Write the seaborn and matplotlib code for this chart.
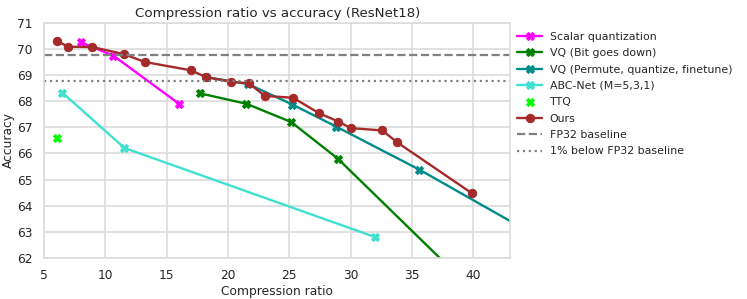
import matplotlib
matplotlib.use("Agg")
import matplotlib.pyplot as plt
import seaborn as sns
import pandas as pd

sns.set_theme(style="whitegrid")
plt.rcParams['font.family'] = ['DejaVu Sans']

scalar_x = [8.0, 10.65, 16.0]
scalar_y = [70.25, 69.74, 67.9]

bgd_x = [17.7, 21.5, 25.15, 28.95, 43.5]
bgd_y = [68.3, 67.9, 67.2, 65.8, 59.15]

pqf_x = [18.2, 21.66, 25.25, 28.8, 35.6, 43.5]
pqf_y = [68.92, 68.65, 67.87, 67.03, 65.38, 63.28]

abc_x = [6.5, 11.55, 32.0]
abc_y = [68.32, 66.21, 62.8]

ttq_x = [6.04]
ttq_y = [66.6]

ours_x = [6.04, 6.98, 8.94, 11.5, 13.2, 16.97, 18.2, 20.2, 21.7, 23.0, 25.3,
          27.45, 29.0, 30.0, 32.57, 33.8, 39.9]
ours_y = [70.3, 70.08, 70.07, 69.8, 69.5, 69.18, 68.92, 68.75, 68.68, 68.2, 68.13,
          67.53, 67.22, 66.97, 66.88, 66.42, 64.47]

fp32 = 69.76
fp32_1 = 68.76

fig = plt.figure(figsize=(7.47, 2.99), dpi=100)
ax = fig.add_axes([0.059, 0.137, 0.624, 0.787])

series = [
    ("Scalar quantization", scalar_x, scalar_y, "magenta", "X"),
    ("VQ (Bit goes down)", bgd_x, bgd_y, "green", "X"),
    ("VQ (Permute, quantize, finetune)", pqf_x, pqf_y, "darkcyan", "X"),
    ("ABC-Net (M=5,3,1)", abc_x, abc_y, "turquoise", "X"),
]
for name, xs, ys, c, m in series:
    sns.lineplot(x=xs, y=ys, ax=ax, color=c, marker=m, markersize=6,
                 markeredgecolor=c, linewidth=1.7, label=name, sort=False)

sns.scatterplot(x=ttq_x, y=ttq_y, ax=ax, color="lime", marker="X", s=36,
                edgecolor="lime", label="TTQ", zorder=3)

sns.lineplot(x=ours_x, y=ours_y, ax=ax, color="brown", marker="o", markersize=6,
             markeredgecolor="brown", linewidth=1.7, label="Ours", sort=False)

ax.axhline(fp32, color="gray", linestyle="--", linewidth=1.6, label="FP32 baseline")
ax.axhline(fp32_1, color="gray", linestyle=":", linewidth=1.6, label="1% below FP32 baseline")

ax.grid(True, linewidth=1.2, color="#dcdcdc")
for s in ax.spines.values():
    s.set_color("#dcdcdc")
    s.set_linewidth(1.2)

ax.set_xlim(5, 43)
ax.set_ylim(62, 71)
ax.set_xticks([5, 10, 15, 20, 25, 30, 35, 40])
ax.set_yticks(list(range(62, 72)))
ax.tick_params(labelsize=8.8, pad=2)
ax.set_xlabel("Compression ratio", fontsize=8.8, labelpad=2)
ax.set_ylabel("Accuracy", fontsize=8.8, labelpad=2)
ax.set_title("Compression ratio vs accuracy (ResNet18)", fontsize=9.6, pad=4)

ax.legend(loc="upper left", bbox_to_anchor=(1.005, 0.98), frameon=False, fontsize=7.9,
          borderaxespad=0, handlelength=2.3, handletextpad=0.7, labelspacing=0.58)

fig.savefig("out.png", dpi=100)
